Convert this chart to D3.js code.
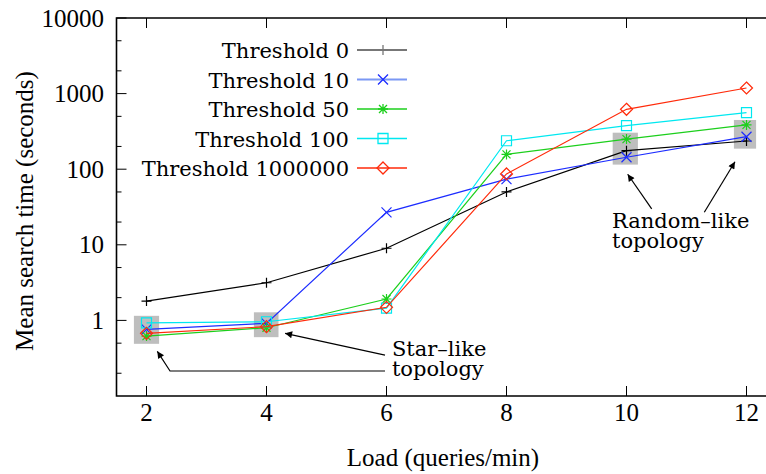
<!DOCTYPE html>
<html>
<head>
<meta charset="utf-8">
<script src="https://cdn.jsdelivr.net/npm/d3@7"></script>
<style>
  body { margin: 0; background: #fff; }
  svg { display: block; }
  .tick-label { font-family: "Liberation Serif", "Times New Roman", serif; font-size: 25px; }
  .legend, .note { font-family: "DejaVu Serif", serif; font-size: 21px; }
</style>
</head>
<body>
<svg id="chart" width="766" height="474"></svg>
<script>
// data
var loads = [2, 4, 6, 8, 10, 12];
var seriesNames = ['Threshold 0', 'Threshold 10', 'Threshold 50', 'Threshold 100', 'Threshold 1000000'];
var t0 = [1.8, 3.15, 9.0, 50, 176, 236];
var t10 = [0.76, 0.915, 26.9, 74, 144, 269];
var t50 = [0.62, 0.80, 1.92, 157, 250, 385];
var t100 = [0.93, 0.96, 1.45, 238, 376, 559];
var t1000000 = [0.675, 0.826, 1.49, 86.5, 620, 1186];
var xTicks = [2, 4, 6, 8, 10, 12];
var yTicks = [1, 10, 100, 1000, 10000];

// highlighted groups of points (load range, time range)
var boxX = [[1.79, 2.21], [3.79, 4.2], [9.77, 10.19], [11.79, 12.16]];
var boxY = [[0.49, 1.15], [0.60, 1.28], [115, 304], [187, 448]];

var colors = ['#000000', '#1c2cff', '#1ccf1c', '#00e8f0', '#ff2a0a'];
var legendColors = ['#777777', '#7b98f4', '#1ccf1c', '#00e8f0', '#ff2a0a'];
var shapes = ['plus', 'cross', 'star', 'square', 'diamond'];
var values = [t0, t10, t50, t100, t1000000];

var svg = d3.select('#chart');

var x = d3.scaleLinear()
  .domain([1.5, 12.5])
  .range([116.5, 776.5]);

var y = d3.scaleLog()
  .domain([0.1, 10000])
  .range([396, 18]);

function shapePath(s) {
  if (s == 'plus') return 'M-5,0H5M0,-5V5';
  if (s == 'cross') return 'M-5,-5L5,5M-5,5L5,-5';
  if (s == 'star') return 'M-5,0H5M0,-5V5M-4,-4L4,4M-4,4L4,-4';
  if (s == 'square') return 'M-5,-5H5V5H-5Z';
  return 'M0,-6L6,0L0,6L-6,0Z';
}

// gray highlight boxes
svg.append('g')
  .selectAll('rect')
  .data(boxX)
  .enter()
  .append('rect')
    .attr('x', function(d) { return x(d[0]); })
    .attr('width', function(d) { return x(d[1]) - x(d[0]); })
    .attr('y', function(d, i) { return y(boxY[i][1]); })
    .attr('height', function(d, i) { return y(boxY[i][0]) - y(boxY[i][1]); })
    .attr('fill', '#bebebe');

// minor + major ticks, drawn inside the frame
var minor = [];
[0.1, 1, 10, 100, 1000].forEach(function(d) { minor.push(d * 2, d * 5); });

var frame = svg.append('g');

frame.selectAll('.ymin')
  .data(minor)
  .enter()
  .append('line')
    .attr('x1', x(1.5)).attr('x2', x(1.5) + 5)
    .attr('y1', function(d) { return y(d); }).attr('y2', function(d) { return y(d); })
    .attr('stroke', '#000').attr('stroke-width', 1);

frame.selectAll('.ymaj')
  .data(yTicks)
  .enter()
  .append('line')
    .attr('x1', x(1.5)).attr('x2', x(1.5) + 10)
    .attr('y1', function(d) { return y(d); }).attr('y2', function(d) { return y(d); })
    .attr('stroke', '#000').attr('stroke-width', 1);

frame.selectAll('.xbot')
  .data(xTicks)
  .enter()
  .append('line')
    .attr('x1', function(d) { return x(d); }).attr('x2', function(d) { return x(d); })
    .attr('y1', y(0.1)).attr('y2', y(0.1) - 10)
    .attr('stroke', '#000').attr('stroke-width', 1);

frame.selectAll('.xtop')
  .data(xTicks)
  .enter()
  .append('line')
    .attr('x1', function(d) { return x(d); }).attr('x2', function(d) { return x(d); })
    .attr('y1', y(10000)).attr('y2', y(10000) + 10)
    .attr('stroke', '#000').attr('stroke-width', 1);

frame.append('path')
  .attr('d', 'M' + x(12.5) + ',' + y(10000) + 'H' + x(1.5) + 'V' + y(0.1) + 'H' + x(12.5))
  .attr('fill', 'none')
  .attr('stroke', '#000')
  .attr('stroke-width', 1.6);

// tick labels
svg.selectAll('.xl')
  .data(xTicks)
  .enter()
  .append('text')
    .attr('class', 'tick-label')
    .attr('x', function(d) { return x(d); })
    .attr('y', y(0.1) + 25)
    .attr('text-anchor', 'middle')
    .text(function(d) { return d; });

svg.selectAll('.yl')
  .data(yTicks)
  .enter()
  .append('text')
    .attr('class', 'tick-label')
    .attr('x', 104)
    .attr('y', function(d) { return y(d) + 8.5; })
    .attr('text-anchor', 'end')
    .text(function(d) { return d; });

svg.append('text')
  .attr('class', 'tick-label')
  .attr('x', 443)
  .attr('y', 466)
  .attr('text-anchor', 'middle')
  .text('Load (queries/min)');

svg.append('text')
  .attr('class', 'tick-label')
  .attr('transform', 'translate(33,211) rotate(-90)')
  .attr('text-anchor', 'middle')
  .text('Mean search time (seconds)');

// series
var line = d3.line()
  .x(function(d, i) { return x(loads[i]); })
  .y(function(d) { return y(d); });

values.forEach(function(vals, k) {
  var g = svg.append('g');
  g.append('path')
    .attr('d', line(vals))
    .attr('fill', 'none')
    .attr('stroke', colors[k])
    .attr('stroke-width', 1.2);
  g.selectAll('path.m')
    .data(vals)
    .enter()
    .append('path')
      .attr('class', 'm')
      .attr('transform', function(d, i) { return 'translate(' + x(loads[i]) + ',' + y(d) + ')'; })
      .attr('d', shapePath(shapes[k]))
      .attr('fill', 'none')
      .attr('stroke', colors[k])
      .attr('stroke-width', 1.2);
});

// legend
var legend = svg.append('g');
seriesNames.forEach(function(name, k) {
  var cy = 50 + k * 29.5;
  legend.append('text')
    .attr('class', 'legend')
    .attr('x', 349)
    .attr('y', cy + 8)
    .attr('text-anchor', 'end')
    .text(name);
  legend.append('line')
    .attr('x1', 357).attr('x2', 407)
    .attr('y1', cy).attr('y2', cy)
    .attr('stroke', legendColors[k])
    .attr('stroke-width', k < 2 ? 2 : 1.3);
  legend.append('path')
    .attr('transform', 'translate(383,' + cy + ')')
    .attr('d', shapePath(shapes[k]))
    .attr('fill', 'none')
    .attr('stroke', k == 0 ? legendColors[0] : colors[k])
    .attr('stroke-width', 1.3);
});

// annotations (data coordinates)
svg.append('defs')
  .append('marker')
    .attr('id', 'head')
    .attr('viewBox', '0 0 10 10')
    .attr('refX', 10).attr('refY', 5)
    .attr('markerWidth', 10).attr('markerHeight', 7)
    .attr('markerUnits', 'userSpaceOnUse')
    .attr('orient', 'auto')
  .append('path')
    .attr('d', 'M0,0L10,5L0,10Z')
    .attr('fill', '#000');

var arrows = [
  [[5.975, 0.348], [4.31, 0.675]],
  [[5.975, 0.214], [2.392, 0.214], [2.18, 0.39]],
  [[10.42, 29.8], [10.02, 85.7]],
  [[11.297, 26.9], [11.808, 125.6]]
];
var notes = [
  { x: 6.09, y: 0.341, lines: ['Star–like', 'topology'] },
  { x: 9.758, y: 16.5, lines: ['Random–like', 'topology'] }
];

var aLine = d3.line()
  .x(function(d) { return x(d[0]); })
  .y(function(d) { return y(d[1]); });

svg.selectAll('.arrow')
  .data(arrows)
  .enter()
  .append('path')
    .attr('d', aLine)
    .attr('fill', 'none')
    .attr('stroke', '#000')
    .attr('stroke-width', 1.2)
    .attr('marker-end', 'url(#head)');

notes.forEach(function(n) {
  var t = svg.append('text')
    .attr('class', 'note')
    .attr('x', x(n.x))
    .attr('y', y(n.y));
  n.lines.forEach(function(s, i) {
    t.append('tspan')
      .attr('x', x(n.x))
      .attr('dy', i == 0 ? 0 : 20)
      .text(s);
  });
});
</script>
</body>
</html>
